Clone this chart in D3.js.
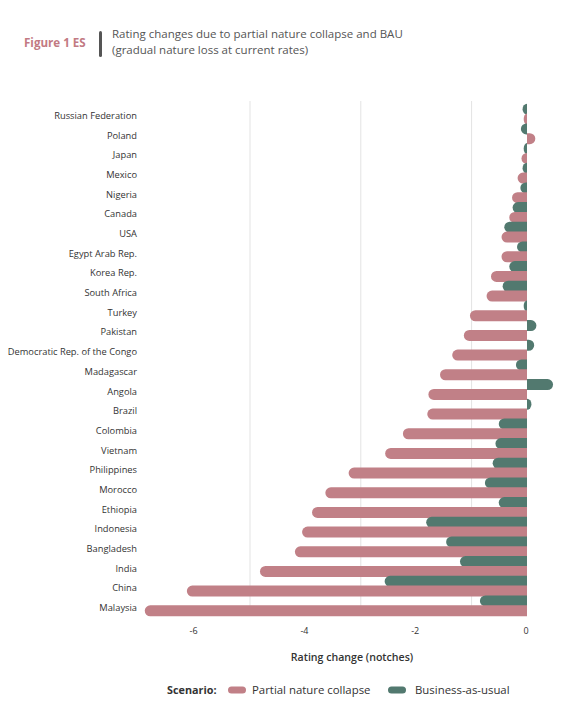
<!DOCTYPE html>
<html>

<style>
    body {
        margin: 0;
        font-family: "Open Sans", sans-serif;
        background: #fff;
    }

    .country {
        font-size: 9.3px;
        fill: #333;
        text-anchor: end;
    }

    .tick-label {
        font-size: 9px;
        fill: #333;
        text-anchor: middle;
    }
</style>

<body>
    <svg id='viz' width='568' height='719'></svg>

<script src="https://cdnjs.cloudflare.com/ajax/libs/d3/7.8.5/d3.min.js"></script>

<script>
    var countries = ['Russian Federation', 'Poland', 'Japan', 'Mexico', 'Nigeria', 'Canada', 'USA',
        'Egypt Arab Rep.', 'Korea Rep.', 'South Africa', 'Turkey', 'Pakistan',
        'Democratic Rep. of the Congo', 'Madagascar', 'Angola', 'Brazil', 'Colombia', 'Vietnam',
        'Philippines', 'Morocco', 'Ethiopia', 'Indonesia', 'Bangladesh', 'India', 'China', 'Malaysia'];

    // partial nature collapse
    var collapse = [-0.06, 0.15, -0.10, -0.17, -0.27, -0.32, -0.46, -0.46, -0.65, -0.73, -1.03, -1.14,
        -1.35, -1.57, -1.78, -1.80, -2.24, -2.56, -3.22, -3.64, -3.88, -4.06, -4.19, -4.82, -6.14, -6.90];

    // business-as-usual
    var bau = [-0.08, -0.11, -0.06, -0.08, -0.12, -0.26, -0.41, -0.18, -0.32, -0.44, -0.06, 0.17,
        0.13, -0.20, 0.47, 0.08, -0.51, -0.57, -0.62, -0.76, -0.51, -1.82, -1.46, -1.21, -2.57, -0.85];

    var xTicks = [-6, -4, -2, 0];
    var gridValues = [-5, -3, -1];

    var scenarios = ['Business-as-usual', 'Partial nature collapse'];
    var colors = {'Partial nature collapse': '#c18087', 'Business-as-usual': '#52796f'};

    var svg = d3.select('#viz');

    var x = d3.scaleLinear().domain([-7, 0.5]).range([139.2, 554.7]);
    var y = d3.scaleBand().domain(countries).range([104.3, 615.7]).padding(0);
    var ySub = d3.scaleBand().domain(scenarios).range([0, y.bandwidth()]);

    // header
    svg.append('text')
        .attr('x', 24).attr('y', 47)
        .attr('font-size', 11.6).attr('font-weight', 'bold')
        .attr('fill', '#c27a83')
        .text('Figure 1 ES');

    svg.append('rect')
        .attr('x', 99).attr('y', 31)
        .attr('width', 3).attr('height', 26)
        .attr('rx', 1.5)
        .attr('fill', '#555');

    svg.append('text')
        .attr('x', 112).attr('y', 38)
        .attr('font-size', 11.5).attr('fill', '#555')
        .text('Rating changes due to partial nature collapse and BAU');

    svg.append('text')
        .attr('x', 112).attr('y', 53.5)
        .attr('font-size', 11.5).attr('fill', '#555')
        .text('(gradual nature loss at current rates)');

    // gridlines
    svg.append('g').selectAll('line')
        .data(gridValues)
        .join('line')
        .attr('x1', d => x(d)).attr('x2', d => x(d))
        .attr('y1', 101).attr('y2', 616)
        .attr('stroke', '#e3e3e3')
        .attr('stroke-width', 1);

    // bar with a rounded end away from zero
    function barPath(v, yTop, h) {
        var x0 = x(0), x1 = x(v);
        var w = Math.abs(x1 - x0);
        var r = h / 2;
        var rx = Math.min(r, w);
        var s = v < 0 ? -1 : 1;
        var xs = x1 - s * rx;
        return 'M' + x0 + ',' + yTop +
            'L' + xs + ',' + yTop +
            'A' + rx + ',' + r + ' 0 0 ' + (s < 0 ? 0 : 1) + ' ' + xs + ',' + (yTop + h) +
            'L' + x0 + ',' + (yTop + h) + 'Z';
    }

    var barH = 11;
    var rows = svg.append('g').selectAll('g.row')
        .data(countries)
        .join('g')
        .attr('class', 'row');

    rows.each(function(c, i) {
        var g = d3.select(this);
        var vals = {'Business-as-usual': bau[i], 'Partial nature collapse': collapse[i]};
        scenarios.forEach(function(s) {
            var yc = y(c) + ySub(s) + ySub.bandwidth() / 2;
            g.append('path')
                .attr('d', barPath(vals[s], yc - barH / 2, barH))
                .attr('fill', colors[s]);
        });
    });

    // country labels
    svg.append('g').selectAll('text')
        .data(countries)
        .join('text')
        .attr('class', 'country')
        .attr('x', 137)
        .attr('y', d => y(d) + y.bandwidth() / 2 + 5)
        .text(d => d);

    // x axis labels
    svg.append('g').selectAll('text')
        .data(xTicks)
        .join('text')
        .attr('class', 'tick-label')
        .attr('x', d => x(d) - 1)
        .attr('y', 634)
        .text(d => d === 0 ? '0' : '-' + Math.abs(d));

    svg.append('text')
        .attr('x', 352).attr('y', 661)
        .attr('text-anchor', 'middle')
        .attr('font-size', 10.6).attr('font-weight', 600)
        .attr('fill', '#333')
        .text('Rating change (notches)');

    // legend
    var legend = svg.append('g').attr('transform', 'translate(0,690)');

    legend.append('text')
        .attr('x', 167).attr('y', 3.8)
        .attr('font-size', 10.8).attr('font-weight', 'bold')
        .attr('fill', '#333')
        .text('Scenario:');

    var legendItems = [
        {name: 'Partial nature collapse', x: 228, tx: 252},
        {name: 'Business-as-usual', x: 388, tx: 415}
    ];

    legend.selectAll('rect')
        .data(legendItems)
        .join('rect')
        .attr('x', d => d.x).attr('y', -3.5)
        .attr('width', 18).attr('height', 7)
        .attr('rx', 3.5)
        .attr('fill', d => colors[d.name]);

    legend.selectAll('text.item')
        .data(legendItems)
        .join('text')
        .attr('class', 'item')
        .attr('x', d => d.tx).attr('y', 3.8)
        .attr('font-size', 11.4)
        .attr('fill', '#333')
        .text(d => d.name);
</script>
</body>
</html>
